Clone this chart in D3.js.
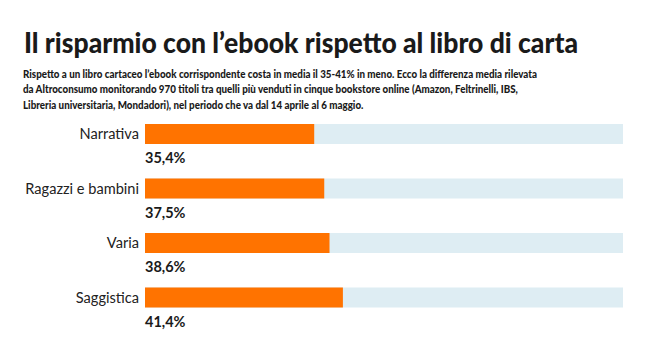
<!DOCTYPE html>
<html><head><meta charset="utf-8">
<script src="https://cdn.jsdelivr.net/npm/d3@7/dist/d3.min.js"></script>
<style>body{margin:0;background:#fff}svg{display:block}</style>
</head><body>
<svg id="c" width="650" height="351"></svg>
<script>
const categories = ["Narrativa", "Ragazzi e bambini", "Varia", "Saggistica"];
const values = [35.4, 37.5, 38.6, 41.4];
const valueLabels = ["35,4%", "37,5%", "38,6%", "41,4%"];
const title = "Il risparmio con l’ebook rispetto al libro di carta";
const subtitleLines = [
  "Rispetto a un libro cartaceo l’ebook corrispondente costa in media il 35-41% in meno. Ecco la differenza media rilevata",
  "da Altroconsumo monitorando 970 titoli tra quelli più venduti in cinque bookstore online (Amazon, Feltrinelli, IBS,",
  "Libreria universitaria, Mondadori), nel periodo che va dal 14 aprile al 6 maggio."
];

const svg = d3.select("#c");
const font = "Lato, 'Noto Sans', sans-serif";

const t = svg.append("text").attr("x", 24).attr("y", 52.5)
  .attr("font-family", font).attr("font-weight", 900).attr("font-size", 28.5)
  .attr("fill", "#1a1a1a").text(title);
t.attr("textLength", 554).attr("lengthAdjust", "spacingAndGlyphs");

const sub = svg.append("g").selectAll("text").data(subtitleLines).join("text")
  .attr("x", 23).attr("y", (d, i) => 77.5 + i * 15.5)
  .attr("font-family", font).attr("font-weight", 900).attr("font-size", 11.8)
  .attr("fill", "#1a1a1a").text(d => d);
const w1 = sub.nodes()[0].getComputedTextLength();
const k = (537 - 23) / w1;
sub.each(function() {
  const w = this.getComputedTextLength();
  d3.select(this).attr("textLength", w * k).attr("lengthAdjust", "spacingAndGlyphs");
});

const x = d3.scaleLinear().domain([0, 100]).range([145, 623]);
const y = d3.scaleBand().domain(categories).range([124, 342]).paddingInner(0).paddingOuter(0);
const bh = 20;

const g = svg.append("g");
g.selectAll("rect.bg").data(categories).join("rect").attr("class", "bg")
  .attr("x", x(0)).attr("y", d => y(d)).attr("width", x(100) - x(0)).attr("height", bh)
  .attr("fill", "#deedf3");
g.selectAll("rect.bar").data(values).join("rect").attr("class", "bar")
  .attr("x", x(0)).attr("y", (d, i) => y(categories[i])).attr("width", d => x(d) - x(0)).attr("height", bh)
  .attr("fill", "#ff7300");
g.selectAll("text.cat").data(categories).join("text").attr("class", "cat")
  .attr("x", 139).attr("y", d => y(d) + bh / 2).attr("dy", "0.36em")
  .attr("text-anchor", "end").attr("font-family", font).attr("font-size", 14.6)
  .attr("fill", "#222").text(d => d);
g.selectAll("text.val").data(valueLabels).join("text").attr("class", "val")
  .attr("x", x(0)).attr("y", (d, i) => y(categories[i]) + bh + 19)
  .attr("font-family", font).attr("font-weight", 700).attr("font-size", 14.5)
  .attr("fill", "#1a1a1a").text(d => d);
</script>
</body></html>
